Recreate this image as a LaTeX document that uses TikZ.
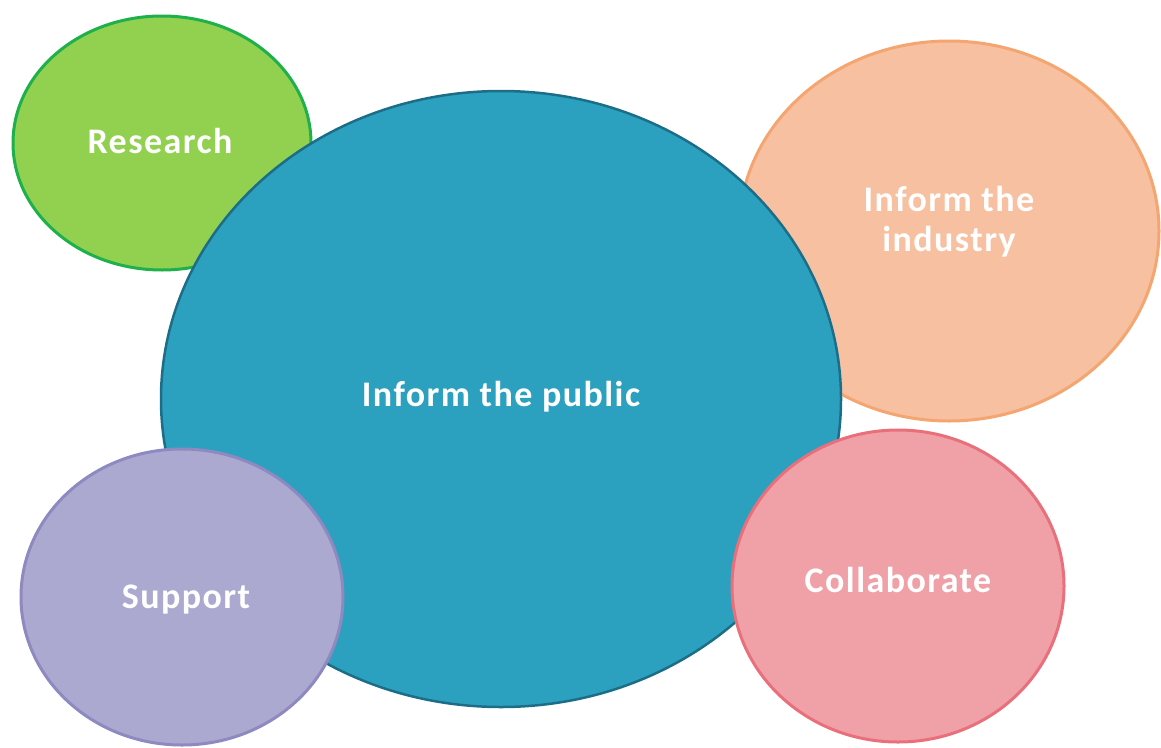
\documentclass[tikz,border=0pt]{standalone}
\usepackage{fontspec}
\setmainfont[LetterSpace=4]{Carlito}
\usepackage{tikz}
\usetikzlibrary{shapes.geometric}

\definecolor{resgreen}{RGB}{146, 208, 80}
\definecolor{resedge}{RGB}{30, 176, 75}
\definecolor{pubteal}{RGB}{44, 161, 191}
\definecolor{pubedge}{RGB}{28, 110, 136}
\definecolor{indpeach}{RGB}{247, 192, 160}
\definecolor{indedge}{RGB}{245, 165, 112}
\definecolor{suplilac}{RGB}{171, 169, 207}
\definecolor{supedge}{RGB}{142, 137, 192}
\definecolor{colpink}{RGB}{240, 161, 168}
\definecolor{coledge}{RGB}{233, 112, 122}

\tikzset{
  bubble/.style={ellipse, line width=3pt, inner sep=0pt},
  bubbletext/.style={align=center, text=white, inner sep=0pt,
    font=\fontsize{36}{40}\selectfont\bfseries}
}

\begin{document}
\begin{tikzpicture}[x=1pt, y=-1pt]
  \useasboundingbox (0,0) rectangle (1161,747);

  % back row
  \node[bubble, draw=resedge, fill=resgreen, minimum width=298pt, minimum height=254pt]
    (research) at (162,143) {};
  \node[bubble, draw=indedge, fill=indpeach, minimum width=420pt, minimum height=380pt]
    (industry) at (949,231) {};

  % centre
  \node[bubble, draw=pubedge, fill=pubteal, line width=2.5pt, minimum width=680pt, minimum height=616pt]
    (public) at (501,399) {};

  % front row
  \node[bubble, draw=supedge, fill=suplilac, minimum width=322pt, minimum height=296pt]
    (support) at (182,597) {};
  \node[bubble, draw=coledge, fill=colpink, minimum width=332pt, minimum height=312pt]
    (collab) at (898,586) {};

  % labels
  \node[bubbletext] (researchtext) at ([xshift=-2pt, yshift=2pt]research.center) {Research};
  \node[bubbletext] (industrytext) at ([yshift=9pt]industry.center) {Inform the\\industry};
  \node[bubbletext] (publictext) at ([yshift=2pt]public.center) {Inform the public};
  \node[bubbletext] (supporttext) at ([xshift=4pt, yshift=-3pt]support.center) {Support};
  \node[bubbletext] (collabtext) at ([yshift=6pt]collab.center) {Collaborate};
\end{tikzpicture}
\end{document}
